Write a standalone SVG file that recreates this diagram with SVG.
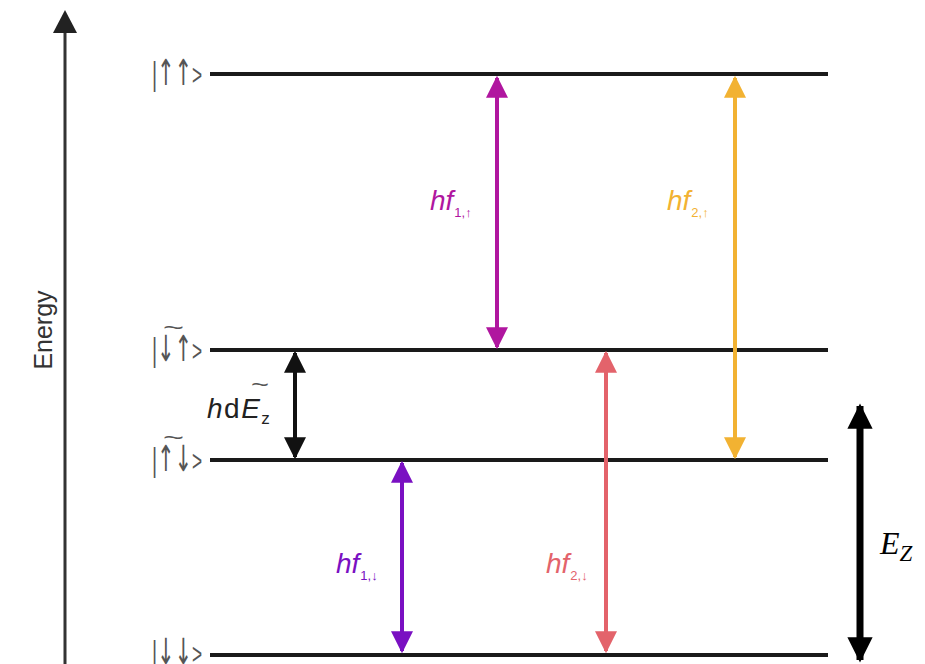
<svg xmlns="http://www.w3.org/2000/svg" width="925" height="664" viewBox="0 0 925 664">
  <defs>
    <style>
      .level { stroke: #1a1a1a; stroke-width: 4; fill: none; }
      .ket { font-family: "Liberation Sans", "DejaVu Sans", sans-serif; font-size: 30px; fill: #555; }
      .bar { font-size: 34px; }
      .ar { font-family: "DejaVu Sans", sans-serif; font-size: 36px; }
      .tl { font-family: "Liberation Sans", "DejaVu Sans", sans-serif; font-size: 22px; fill: #555; }
      .lab { font-family: "Liberation Sans", "DejaVu Sans", sans-serif; font-size: 28px; font-style: italic; }
      .sub { font-size: 13px; font-style: normal; }
      .tr { stroke-width: 4; fill: none; }
    </style>
    <marker id="hMag" viewBox="0 0 10 10" refX="9" refY="5" markerWidth="5.5" markerHeight="5.5" orient="auto-start-reverse" markerUnits="strokeWidth">
      <path d="M0,0 L10,5 L0,10 Z" fill="#b0169f"/>
    </marker>
    <marker id="hOra" viewBox="0 0 10 10" refX="9" refY="5" markerWidth="5.5" markerHeight="5.5" orient="auto-start-reverse" markerUnits="strokeWidth">
      <path d="M0,0 L10,5 L0,10 Z" fill="#f2b232"/>
    </marker>
    <marker id="hPur" viewBox="0 0 10 10" refX="9" refY="5" markerWidth="5.5" markerHeight="5.5" orient="auto-start-reverse" markerUnits="strokeWidth">
      <path d="M0,0 L10,5 L0,10 Z" fill="#7a10c2"/>
    </marker>
    <marker id="hRed" viewBox="0 0 10 10" refX="9" refY="5" markerWidth="5.5" markerHeight="5.5" orient="auto-start-reverse" markerUnits="strokeWidth">
      <path d="M0,0 L10,5 L0,10 Z" fill="#e3636b"/>
    </marker>
    <marker id="hBlk" viewBox="0 0 10 10" refX="9" refY="5" markerWidth="5.5" markerHeight="5.5" orient="auto-start-reverse" markerUnits="strokeWidth">
      <path d="M0,0 L10,5 L0,10 Z" fill="#111"/>
    </marker>
    <marker id="hBig" viewBox="0 0 10 10" refX="9" refY="5" markerWidth="3.6" markerHeight="3.6" orient="auto-start-reverse" markerUnits="strokeWidth">
      <path d="M0,0 L10,5 L0,10 Z" fill="#000"/>
    </marker>
  </defs>

  <rect width="925" height="664" fill="#fff"/>

  <!-- energy axis -->
  <g id="axis">
    <line x1="65" y1="30" x2="65" y2="664" stroke="#333" stroke-width="3"/>
    <path d="M65,10 L77,33 L53,33 Z" fill="#222"/>
    <text transform="translate(52,330) rotate(-90)" text-anchor="middle" font-family="Liberation Sans, DejaVu Sans, sans-serif" font-size="25" fill="#333">Energy</text>
  </g>

  <!-- energy levels; ket labels are squeezed horizontally -->
  <g id="level-uu">
    <line class="level" x1="210" y1="74" x2="828" y2="74"/>
    <text class="ket" x="152" y="85" textLength="50" lengthAdjust="spacingAndGlyphs"><tspan class="bar">|</tspan><tspan class="ar">↑↑</tspan>&gt;</text>
  </g>
  <g id="level-du">
    <line class="level" x1="210" y1="350" x2="828" y2="350"/>
    <text class="ket" x="152" y="361" textLength="50" lengthAdjust="spacingAndGlyphs"><tspan class="bar">|</tspan><tspan class="ar">↓↑</tspan>&gt;</text>
    <text class="tl" x="163" y="335" textLength="21" lengthAdjust="spacingAndGlyphs">~</text>
  </g>
  <g id="level-ud">
    <line class="level" x1="210" y1="460" x2="828" y2="460"/>
    <text class="ket" x="152" y="471" textLength="50" lengthAdjust="spacingAndGlyphs"><tspan class="bar">|</tspan><tspan class="ar">↑↓</tspan>&gt;</text>
    <text class="tl" x="163" y="445" textLength="21" lengthAdjust="spacingAndGlyphs">~</text>
  </g>
  <g id="level-dd">
    <line class="level" x1="210" y1="655" x2="828" y2="655"/>
    <text class="ket" x="152" y="664" textLength="50" lengthAdjust="spacingAndGlyphs"><tspan class="bar">|</tspan><tspan class="ar">↓↓</tspan>&gt;</text>
  </g>

  <!-- transitions -->
  <g id="connectors">
    <line class="tr" stroke="#b0169f" x1="497" y1="78" x2="497" y2="347" marker-start="url(#hMag)" marker-end="url(#hMag)"/>
    <line class="tr" stroke="#f2b232" x1="735" y1="78" x2="735" y2="457" marker-start="url(#hOra)" marker-end="url(#hOra)"/>
    <line class="tr" stroke="#111" x1="295" y1="353" x2="295" y2="457" marker-start="url(#hBlk)" marker-end="url(#hBlk)"/>
    <line class="tr" stroke="#7a10c2" x1="402" y1="463" x2="402" y2="651" marker-start="url(#hPur)" marker-end="url(#hPur)"/>
    <line class="tr" stroke="#e3636b" x1="606" y1="353" x2="606" y2="651" marker-start="url(#hRed)" marker-end="url(#hRed)"/>
    <line stroke="#000" stroke-width="7" x1="860" y1="406" x2="860" y2="660" marker-start="url(#hBig)" marker-end="url(#hBig)"/>
  </g>

  <!-- transition labels -->
  <g id="label-f1up">
    <text class="lab" x="430" y="210" fill="#b0169f">hf<tspan class="sub" dx="1" dy="7">1,↑</tspan></text>
  </g>
  <g id="label-f2up">
    <text class="lab" x="667" y="210" fill="#f2b232">hf<tspan class="sub" dx="1" dy="7">2,↑</tspan></text>
  </g>
  <g id="label-f1down">
    <text class="lab" x="336" y="573" fill="#7a10c2">hf<tspan class="sub" dx="1" dy="7">1,↓</tspan></text>
  </g>
  <g id="label-f2down">
    <text class="lab" x="546" y="573" fill="#e3636b">hf<tspan class="sub" dx="1" dy="7">2,↓</tspan></text>
  </g>
  <g id="label-dEz">
    <text class="lab" x="207" y="418" font-size="32" letter-spacing="1.5" fill="#222">h<tspan font-style="normal">d</tspan>E<tspan font-style="normal" font-size="17" dy="6">z</tspan></text>
    <text class="tl" x="251" y="392" fill="#222" textLength="18" lengthAdjust="spacingAndGlyphs">~</text>
  </g>
  <g id="label-Ez">
    <text x="880" y="554" font-family="Liberation Serif, DejaVu Serif, serif" font-size="32" font-style="italic" fill="#000">E<tspan font-size="23" dy="7">Z</tspan></text>
  </g>
</svg>
